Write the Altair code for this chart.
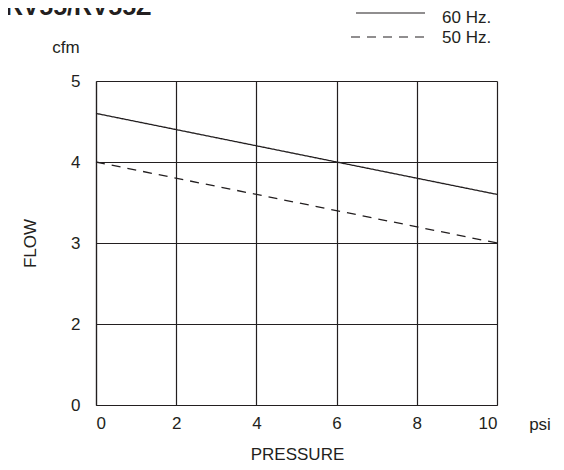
import altair as alt
import pandas as pd

pressure = [0, 10]
flow_60 = [4.6, 3.6]
flow_50 = [4.0, 3.0]
series_names = ["60 Hz.", "50 Hz."]
title_text = "RV55/RV55Z"
x_ticks = [0, 2, 4, 6, 8, 10]
# broken flow axis: the bottom band runs from 0 up to 2 (drawn at the "1" position)
y_ticks = [1, 2, 3, 4, 5]

rows = []
for p, f in zip(pressure, flow_60):
    rows.append({"pressure": p, "flow": f, "series": series_names[0]})
for p, f in zip(pressure, flow_50):
    rows.append({"pressure": p, "flow": f, "series": series_names[1]})
df = pd.DataFrame(rows)

FONT = "Liberation Sans"
INK = "#231f20"
FS = 17

x_scale = alt.Scale(domain=[0, 10], nice=False, zero=False)
y_scale = alt.Scale(domain=[1, 5], nice=False, zero=False)

x_axis = alt.Axis(values=x_ticks, title="PRESSURE", grid=True, gridColor=INK, gridOpacity=1,
                  gridWidth=1.2, domainColor=INK, domainWidth=1.2, ticks=False, labelPadding=10,
                  labelFontSize=FS, labelFont=FONT, labelColor=INK, titleFont=FONT,
                  titleFontSize=FS, titleFontWeight="normal", titleColor=INK,
                  titleX=201, titleY=49, titleBaseline="middle", titleAlign="center")
y_axis = alt.Axis(values=y_ticks, title="FLOW", grid=True, gridColor=INK, gridOpacity=1,
                  gridWidth=1.2, domainColor=INK, domainWidth=1.2, ticks=False, labelPadding=16,
                  labelFontSize=FS, labelFont=FONT, labelColor=INK,
                  labelExpr="datum.value == 1 ? '0' : datum.label",
                  titleFont=FONT, titleFontSize=FS, titleFontWeight="normal", titleColor=INK,
                  titleX=-66, titleY=162, titleAngle=-90, titleBaseline="middle", titleAlign="center")

base = alt.Chart(df)
lines = base.mark_line(color=INK, strokeWidth=1.3).encode(
    x=alt.X("pressure:Q", scale=x_scale, axis=x_axis),
    y=alt.Y("flow:Q", scale=y_scale, axis=y_axis),
    strokeDash=alt.StrokeDash("series:N", scale=alt.Scale(domain=series_names, range=[[1, 0], [9, 7]]), legend=None),
    detail="series:N",
)

# manual legend
leg_solid = alt.Chart(pd.DataFrame({"s": [series_names[0]]})).mark_rule(color=INK, strokeWidth=1.2).encode(
    x=alt.value(260), x2=alt.value(329), y=alt.value(-68))
leg_dash = alt.Chart(pd.DataFrame({"s": [series_names[1]]})).mark_rule(color=INK, strokeWidth=1.2, strokeDash=[9, 7]).encode(
    x=alt.value(255), x2=alt.value(329), y=alt.value(-44))
leg_t1 = alt.Chart(pd.DataFrame({"s": [series_names[0]]})).mark_text(
    align="left", baseline="middle", font=FONT, fontSize=FS, color=INK).encode(
    x=alt.value(346), y=alt.value(-63), text="s:N")
leg_t2 = alt.Chart(pd.DataFrame({"s": [series_names[1]]})).mark_text(
    align="left", baseline="middle", font=FONT, fontSize=FS, color=INK).encode(
    x=alt.value(346), y=alt.value(-43), text="s:N")

cfm = alt.Chart(pd.DataFrame({"t": ["cfm"]})).mark_text(
    align="center", baseline="middle", font=FONT, fontSize=FS, color=INK).encode(
    x=alt.value(-30), y=alt.value(-33), text="t:N")
psi = alt.Chart(pd.DataFrame({"t": ["psi"]})).mark_text(
    align="center", baseline="middle", font=FONT, fontSize=FS, color=INK).encode(
    x=alt.value(444), y=alt.value(344), text="t:N")
title = alt.Chart(pd.DataFrame({"t": [title_text]})).mark_text(
    align="left", baseline="alphabetic", font=FONT, fontSize=25, fontWeight="bold", color=INK).encode(
    x=alt.value(-91), y=alt.value(-66), text="t:N")

chart = alt.layer(lines, leg_solid, leg_dash, leg_t1, leg_t2, cfm, psi, title).properties(
    width=401, height=324,
    autosize=alt.AutoSizeParams(type="none"),
    padding={"left": 88, "top": 73, "right": 59, "bottom": 57},
    background="white",
).configure_view(stroke=None)

chart.save("out.html", embed_options={"renderer": "svg", "actions": False})
